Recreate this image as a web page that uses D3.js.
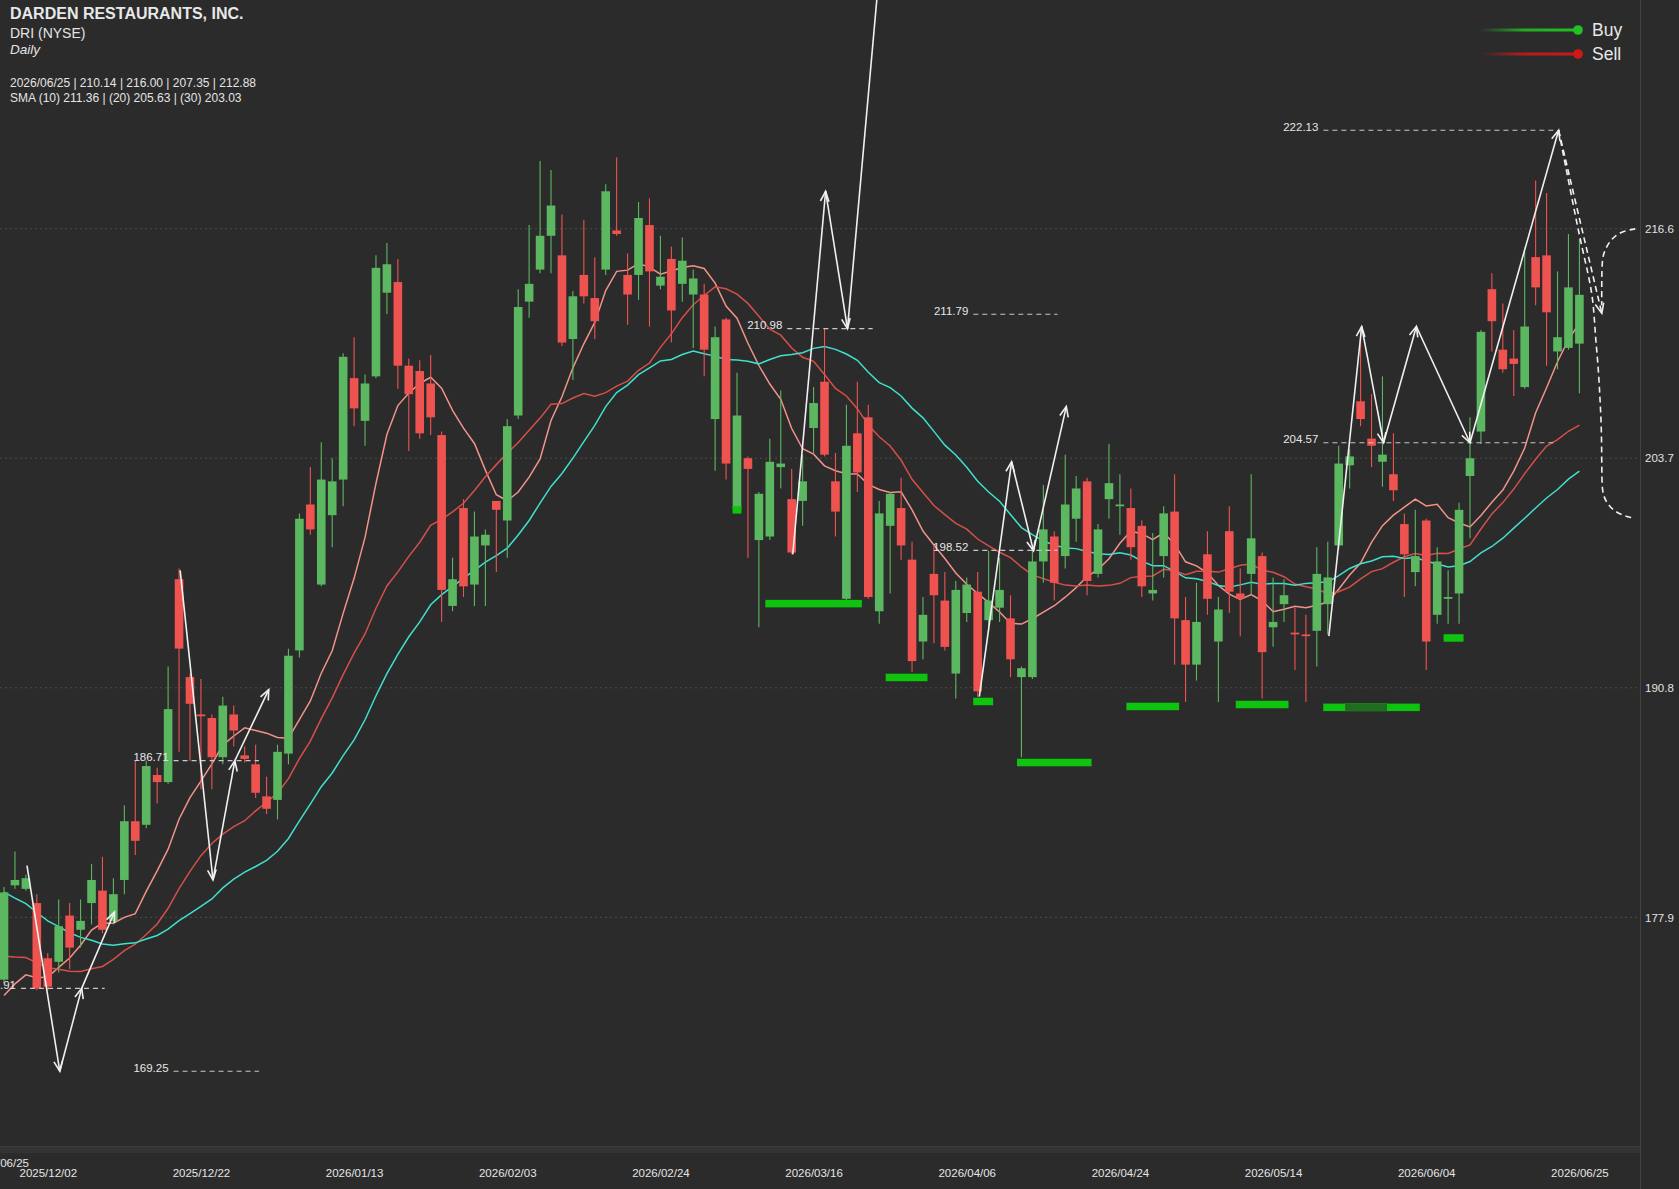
<!DOCTYPE html>
<html><head><meta charset="utf-8">
<script src="https://cdn.jsdelivr.net/npm/d3@7/dist/d3.min.js"></script>
<style>
html,body{margin:0;padding:0;background:#2b2b2b;overflow:hidden;}
svg{display:block;font-family:"Liberation Sans",Arial,Helvetica,sans-serif;}
</style></head><body>
<svg id="chart" width="1679" height="1189"></svg>
<script>
// ---------------- DATA ----------------
const dates = [
"2025/11/25","2025/11/26","2025/11/28",
"2025/12/01","2025/12/02","2025/12/03","2025/12/04","2025/12/05","2025/12/08","2025/12/09","2025/12/10","2025/12/11","2025/12/12",
"2025/12/15","2025/12/16","2025/12/17","2025/12/18","2025/12/19","2025/12/22","2025/12/23","2025/12/24","2025/12/26","2025/12/29","2025/12/30","2025/12/31",
"2026/01/02","2026/01/05","2026/01/06","2026/01/07","2026/01/08","2026/01/09","2026/01/12","2026/01/13","2026/01/14","2026/01/15","2026/01/16",
"2026/01/20","2026/01/21","2026/01/22","2026/01/23","2026/01/26","2026/01/27","2026/01/28","2026/01/29","2026/01/30",
"2026/02/02","2026/02/03","2026/02/04","2026/02/05","2026/02/06","2026/02/09","2026/02/10","2026/02/11","2026/02/12","2026/02/13",
"2026/02/17","2026/02/18","2026/02/19","2026/02/20","2026/02/23","2026/02/24","2026/02/25","2026/02/26","2026/02/27",
"2026/03/02","2026/03/03","2026/03/04","2026/03/05","2026/03/06","2026/03/09","2026/03/10","2026/03/11","2026/03/12","2026/03/13",
"2026/03/16","2026/03/17","2026/03/18","2026/03/19","2026/03/20","2026/03/23","2026/03/24","2026/03/25","2026/03/26","2026/03/27","2026/03/30","2026/03/31",
"2026/04/01","2026/04/02","2026/04/06","2026/04/07","2026/04/08","2026/04/09","2026/04/10","2026/04/13","2026/04/14","2026/04/15","2026/04/16","2026/04/17",
"2026/04/20","2026/04/21","2026/04/22","2026/04/23","2026/04/24","2026/04/27","2026/04/28","2026/04/29","2026/04/30",
"2026/05/01","2026/05/04","2026/05/05","2026/05/06","2026/05/07","2026/05/08","2026/05/11","2026/05/12","2026/05/13","2026/05/14","2026/05/15",
"2026/05/18","2026/05/19","2026/05/20","2026/05/21","2026/05/22","2026/05/26","2026/05/27","2026/05/28","2026/05/29",
"2026/06/01","2026/06/02","2026/06/03","2026/06/04","2026/06/05","2026/06/08","2026/06/09","2026/06/10","2026/06/11","2026/06/12",
"2026/06/15","2026/06/16","2026/06/17","2026/06/18","2026/06/22","2026/06/23","2026/06/24","2026/06/25"];

const opens = [174.4,179.7,179.5,178.7,175.6,175.4,178.0,177.2,178.7,179.4,
177.7,180.0,183.3,183.1,185.9,185.5,196.9,191.4,189.3,189.1,
186.9,189.3,187.0,186.5,184.7,184.5,187.1,192.9,201.1,196.6,
200.5,202.5,208.2,205.8,208.3,213.0,213.6,208.9,208.6,207.9,
205.0,195.4,200.9,196.6,198.8,201.3,200.2,206.1,212.5,214.3,
216.2,215.1,210.4,214.0,212.7,214.3,216.5,214.0,214.0,216.8,
213.4,214.9,213.5,212.9,212.9,205.9,211.5,200.9,203.7,199.1,
199.3,203.2,201.4,201.3,205.4,208.0,202.4,195.8,205.1,206.0,
195.1,199.9,200.9,198.0,193.4,197.2,195.7,191.6,195.0,196.2,
194.6,195.3,194.7,191.4,191.4,197.9,199.3,198.2,200.3,202.4,
197.2,201.4,201.0,200.9,199.9,196.1,198.2,200.7,194.6,192.1,
198.3,193.4,199.6,196.1,197.2,198.2,194.2,195.5,193.9,193.8,
194.0,195.5,198.8,203.3,206.9,204.8,203.5,202.8,200.0,197.3,
200.2,194.9,195.8,196.1,202.7,205.2,213.2,209.8,209.3,207.7,
215.0,215.1,209.7,209.9,210.14];

const highs = [179.6,181.6,180.3,179.2,175.9,178.9,178.7,178.9,180.9,181.3,
180.1,184.2,186.7,186.7,186.3,192.0,197.5,191.6,191.3,189.3,
190.3,189.8,187.5,187.6,185.8,187.6,193.0,200.6,203.2,204.6,
203.7,209.6,210.5,208.4,215.1,215.8,214.9,209.3,209.2,209.5,
205.2,198.1,201.4,200.7,199.7,201.3,205.9,213.2,216.8,220.4,
219.9,217.4,213.1,217.1,215.0,219.1,220.6,215.2,218.1,218.3,
216.2,215.6,216.1,214.3,213.5,211.1,211.6,208.5,203.8,201.8,
204.8,207.5,203.1,203.9,207.7,211.0,204.0,206.7,208.0,206.7,
201.3,201.8,202.6,199.0,195.9,198.8,197.3,196.8,197.0,197.3,
198.5,198.1,196.0,192.0,198.5,202.2,199.6,203.9,202.7,202.6,
200.0,204.5,202.8,202.0,200.2,199.5,201.0,202.8,195.9,196.7,
199.6,195.9,201.0,197.5,202.8,198.4,197.0,196.9,195.3,194.9,
198.7,199.0,204.4,204.2,210.9,207.3,208.3,205.1,200.6,200.8,
200.3,198.7,197.4,201.2,206.0,210.9,214.1,212.4,210.9,215.3,
219.3,218.6,214.2,216.3,216.00];

const lows = [174.2,179.5,179.4,173.8,173.8,174.8,175.0,176.2,177.5,177.0,
177.5,179.2,181.4,182.9,184.3,185.4,187.2,186.7,185.1,185.1,
186.5,187.5,186.6,184.6,183.7,183.4,186.5,192.5,199.4,196.5,
198.7,201.0,205.5,204.4,208.2,211.8,207.6,204.1,204.8,205.0,
194.5,195.1,195.9,195.4,195.4,197.3,198.1,205.9,211.6,214.1,
214.1,210.0,208.1,212.4,210.4,214.0,216.2,211.2,212.6,211.1,
213.2,210.2,212.5,209.9,208.3,203.0,202.5,200.8,198.1,194.2,
199.1,202.0,198.3,199.9,204.0,203.8,199.3,195.6,201.8,195.8,
194.4,196.1,198.0,191.7,192.4,193.3,192.9,190.2,194.5,190.3,
193.9,194.5,191.4,186.9,191.3,196.7,195.7,197.5,199.0,196.0,
197.0,200.3,199.4,198.0,195.9,195.7,197.0,192.1,190.0,191.2,
194.9,190.0,195.0,193.7,196.0,190.2,193.1,194.5,191.8,190.0,
192.0,193.8,198.6,202.0,205.5,203.2,202.1,201.3,195.9,196.5,
191.8,194.4,194.4,194.4,199.2,204.5,209.7,208.5,207.2,207.6,
212.3,208.9,208.7,209.8,207.35];

const closes = [179.3,180.0,180.1,173.9,174.0,177.4,176.2,177.7,180.0,177.2,
179.2,183.3,182.2,186.4,185.5,189.6,193.0,189.9,189.2,186.9,
189.8,188.4,186.8,184.9,184.0,187.2,192.6,200.3,199.7,202.5,
202.4,209.4,206.5,207.9,214.4,214.6,208.9,207.3,205.1,206.0,
196.3,196.9,196.5,199.3,199.4,200.8,205.5,212.2,213.5,216.2,
217.9,210.2,212.8,212.8,211.4,218.7,216.3,212.9,217.2,214.2,
213.9,212.0,214.8,213.8,209.8,210.5,203.4,206.1,203.1,201.7,
203.5,203.4,198.4,202.4,206.8,203.9,200.7,204.4,202.9,195.9,
200.6,201.7,198.8,192.3,194.9,196.0,193.1,196.3,196.6,190.6,
195.7,196.3,192.4,191.9,197.9,199.7,196.7,201.1,202.0,196.8,
199.7,202.3,201.1,198.7,196.5,196.3,200.6,194.7,192.1,194.5,
195.8,195.2,196.2,195.8,199.2,192.8,194.5,196.0,193.8,193.7,
197.2,197.0,203.4,203.8,205.9,204.4,203.9,201.9,198.3,198.2,
193.4,197.9,195.9,200.8,203.7,210.8,211.4,208.7,209.0,211.1,
213.3,211.9,210.5,213.3,212.88];

// closes before the visible window (estimated from where the averages start)
const priorCloses = [190.0,189.5,188.8,188.0,187.2,186.5,185.5,184.8,183.5,181.3,
181.0,180.5,180.0,179.5,179.0,178.5,178.0,177.0,174.5,171.2,
173.5,175.0,175.5,173.6,172.0,171.0,170.5,171.5,173.2];

const smaPeriods = [10, 20, 30];
const yTickValues = [177.9, 190.8, 203.7, 216.6];
const xTickIndex = [4, 18, 32, 46, 60, 74, 88, 102, 116, 130, 144];

// price level lines (value, start index, end index)
const levelValues = [173.91, 169.25, 186.71, 210.98, 211.79, 198.52, 222.13, 204.57];
const levelFrom   = [1.55, 15.5, 15.5, 71.6, 88.6, 88.6, 120.6, 120.6];
const levelTo     = [9.2, 23.3, 23.3, 79.4, 96.3, 96.3, 141.9, 141.6];

// zigzag swings [index, price]
const zigzag1 = [[2.1,180.8],[5.1,169.25],[7.1,173.91],[10.1,178.2]];
const zigzag2 = [[16.1,197.4],[19.1,180.0],[21.1,186.7],[24.2,190.7]];
const zigzag3 = [[72.1,198.3],[75.1,218.7],[77.1,210.98],[81.0,237.9]];
const zigzag4 = [[89.15,190.3],[92.1,203.5],[94.1,198.5],[97.1,206.6]];
const zigzag5 = [[121.1,193.7],[124.1,211.1],[126.1,204.57],[129.1,211.1],[134.0,204.57],[142.1,222.13]];

// projection
const projTarget = [[142.1,222.13],[146.05,211.84]];
const projUpper = [[149.1,216.59],[147.7,216.42],[146.8,215.95],[146.16,215.22],[146.04,214.46],[146.04,212.3]];
const projLower = [[142.1,222.13],[144.06,215.95],[144.67,214.46],[145.28,212.59],[145.43,210.74],[145.73,208.84],[145.89,206.96],[146.04,205.12],[146.04,202.31],[146.16,201.55],[146.8,200.92],[147.7,200.53],[148.9,200.34]];

// support markers
const markerFrom  = [67, 70, 81, 89, 93, 103, 113, 121, 123, 132];
const markerTo    = [67, 78, 84, 90, 99, 107, 117, 126, 129, 133];
const markerPrice = [200.8, 195.53, 191.38, 190.03, 186.6, 189.75, 189.86, 189.7, 189.7, 193.6];

const headerTitle = "DARDEN RESTAURANTS, INC.";
const headerTicker = "DRI (NYSE)";
const headerInterval = "Daily";
const headerOHLC = "2026/06/25 | 210.14 | 216.00 | 207.35 | 212.88";
const headerSMA = "SMA (10) 211.36 | (20) 205.63 | (30) 203.03";
const legendNames = ["Buy", "Sell"];

// ---------------- DRAW ----------------
const W = 1679, H = 1189, plotW = 1640, plotH = 1146;
const svg = d3.select("#chart");
const bg = "#2b2b2b";
svg.append("rect").attr("width", W).attr("height", H).attr("fill", bg);

const x = d3.scaleLinear().domain([0, 144]).range([4, 1579.4]);
const y = d3.scaleLinear().domain([165.05, 229.45]).range([plotH, 0]);

const defs = svg.append("defs");
defs.append("clipPath").attr("id", "plotClip").append("rect")
  .attr("x", 0).attr("y", 0).attr("width", plotW).attr("height", plotH);

// grid
const grid = svg.append("g");
grid.selectAll("line").data(yTickValues).join("line")
  .attr("x1", 0).attr("x2", plotW)
  .attr("y1", d => y(d)).attr("y2", d => y(d))
  .attr("stroke", "#4c4c4c").attr("stroke-width", 1).attr("stroke-dasharray", "2,3");

// bottom strip
svg.append("rect").attr("x", 0).attr("y", plotH + 1).attr("width", plotW).attr("height", 6).attr("fill", "#343434");
svg.append("line").attr("x1", 0).attr("x2", plotW).attr("y1", plotH + 0.5).attr("y2", plotH + 0.5)
  .attr("stroke", "#3c3c3c");

// right axis
const yAxis = d3.axisRight(y).tickValues(yTickValues).tickSize(0).tickPadding(5)
  .tickFormat(d3.format(".1f"));
const ya = svg.append("g").attr("transform", `translate(${plotW},0)`).call(yAxis);
ya.select(".domain").attr("stroke", "#444").attr("d", `M0.5,0V${H}`);
ya.selectAll("text").attr("fill", "#e2e2e2").attr("font-size", 11.5)
  .attr("font-family", '"Liberation Sans",Arial,sans-serif');

// bottom axis
const xAxis = d3.axisBottom(x).tickValues(xTickIndex).tickSize(0).tickPadding(23)
  .tickFormat(i => dates[i]);
const xa = svg.append("g").attr("transform", `translate(0,${plotH})`).call(xAxis);
xa.select(".domain").remove();
xa.selectAll("text").attr("fill", "#e6e6e6").attr("font-size", 11.5)
  .attr("font-family", '"Liberation Sans",Arial,sans-serif');
svg.append("text").attr("x", 29).attr("y", 1167).attr("text-anchor", "end")
  .attr("fill", "#e6e6e6").attr("font-size", 11.5).text("2025/06/25");

const plot = svg.append("g").attr("clip-path", "url(#plotClip)");

// moving averages
const allCloses = priorCloses.concat(closes);
function sma(n) {
  return closes.map((c, i) => {
    const j = i + priorCloses.length;
    return d3.mean(allCloses.slice(j - n + 1, j + 1));
  });
}
const smaColors = ["#f2938a", "#d64f49", "#3fe0cc"];
smaPeriods.forEach((n, k) => {
  const vals = sma(n);
  plot.append("path").datum(vals)
    .attr("fill", "none").attr("stroke", smaColors[k]).attr("stroke-width", 1.5)
    .attr("d", d3.line().x((d, i) => x(i)).y(d => y(d)));
});

// candles
const up = "#5cb860", down = "#ef5350";
const bodyW = 8.6;
const candles = plot.append("g");
closes.forEach((c, i) => {
  const o = opens[i], col = c >= o ? up : down;
  candles.append("line").attr("x1", x(i)).attr("x2", x(i))
    .attr("y1", y(highs[i])).attr("y2", y(lows[i]))
    .attr("stroke", col).attr("stroke-width", 1.1);
  const top = y(Math.max(o, c)), bot = y(Math.min(o, c));
  candles.append("rect").attr("x", x(i) - bodyW / 2).attr("y", top)
    .attr("width", bodyW).attr("height", Math.max(1.5, bot - top)).attr("fill", col);
});

// support markers
const mk = plot.append("g");
const mHalf = 4.5, mH = 7.5;
markerFrom.forEach((f, k) => {
  mk.append("rect").attr("x", x(f) - mHalf).attr("y", y(markerPrice[k]) - mH / 2)
    .attr("width", x(markerTo[k]) - x(f) + 2 * mHalf).attr("height", mH).attr("fill", "#0ec40e");
});
for (let a = 0; a < markerFrom.length; a++) {
  for (let b = a + 1; b < markerFrom.length; b++) {
    const lo = Math.max(markerFrom[a], markerFrom[b]), hi = Math.min(markerTo[a], markerTo[b]);
    if (lo <= hi && Math.abs(markerPrice[a] - markerPrice[b]) < 0.5) {
      mk.append("rect").attr("x", x(lo) - mHalf).attr("y", y(markerPrice[a]) - mH / 2)
        .attr("width", x(hi) - x(lo) + 2 * mHalf).attr("height", mH).attr("fill", "#1f6e1f");
    }
  }
}

// level lines
const lv = plot.append("g");
levelValues.forEach((v, k) => {
  lv.append("line").attr("x1", x(levelFrom[k])).attr("x2", x(levelTo[k]))
    .attr("y1", y(v)).attr("y2", y(v))
    .attr("stroke", "#c8c8c8").attr("stroke-width", 1.2).attr("stroke-dasharray", "5,4");
  lv.append("text").attr("x", x(levelFrom[k]) - 5).attr("y", y(v) + 0.5)
    .attr("text-anchor", "end").attr("fill", "#e6e6e6").attr("font-size", 11.5)
    .text(v.toFixed(2));
});

// zigzags
const zz = plot.append("g").attr("fill", "none").attr("stroke", "#f0f0f0").attr("stroke-width", 1.6);
function arrowHead(g, x1, y1, x2, y2) {
  const a = Math.atan2(y2 - y1, x2 - x1), L = 11, sp = 0.4;
  g.append("path").attr("d",
    `M${x2 - L * Math.cos(a - sp)},${y2 - L * Math.sin(a - sp)}L${x2},${y2}L${x2 - L * Math.cos(a + sp)},${y2 - L * Math.sin(a + sp)}`);
}
[zigzag1, zigzag2, zigzag3, zigzag4, zigzag5].forEach(z => {
  for (let k = 1; k < z.length; k++) {
    const x1 = x(z[k - 1][0]), y1 = y(z[k - 1][1]), x2 = x(z[k][0]), y2 = y(z[k][1]);
    zz.append("line").attr("x1", x1).attr("y1", y1).attr("x2", x2).attr("y2", y2);
    arrowHead(zz, x1, y1, x2, y2);
  }
});

// projection (dashed)
const pj = svg.append("g").attr("fill", "none").attr("stroke", "#f0f0f0").attr("stroke-width", 1.6);
const lineXY = d3.line().x(d => x(d[0])).y(d => y(d[1]));
pj.append("path").datum(projTarget).attr("d", lineXY).attr("stroke-dasharray", "6,4");
arrowHead(pj, x(projTarget[0][0]), y(projTarget[0][1]), x(projTarget[1][0]), y(projTarget[1][1]));
const curveXY = d3.line().x(d => x(d[0])).y(d => y(d[1])).curve(d3.curveBasis);
pj.append("path").datum(projUpper).attr("d", curveXY).attr("stroke-dasharray", "6,4");
pj.append("path").datum(projLower).attr("d", curveXY).attr("stroke-dasharray", "6,4");

// header
const hd = svg.append("g");
hd.append("text").attr("x", 10).attr("y", 18.5).attr("font-weight", "bold").attr("font-size", 16)
  .attr("fill", "#e8e8e8").text(headerTitle);
hd.append("text").attr("x", 10).attr("y", 37.5).attr("font-size", 14).attr("fill", "#e4e4e4").text(headerTicker);
hd.append("text").attr("x", 10).attr("y", 53.5).attr("font-size", 13.5).attr("font-style", "italic")
  .attr("fill", "#e4e4e4").text(headerInterval);
hd.append("text").attr("x", 10).attr("y", 87).attr("font-size", 12).attr("fill", "#e4e4e4").text(headerOHLC);
hd.append("text").attr("x", 10).attr("y", 102).attr("font-size", 12).attr("fill", "#e4e4e4").text(headerSMA);

// legend
const legendColors = ["#22c022", "#d01818"];
legendNames.forEach((name, k) => {
  const gid = "lg" + k;
  const gr = defs.append("linearGradient").attr("id", gid).attr("x1", "0%").attr("x2", "100%");
  gr.append("stop").attr("offset", "0%").attr("stop-color", legendColors[k]).attr("stop-opacity", 0);
  gr.append("stop").attr("offset", "45%").attr("stop-color", legendColors[k]).attr("stop-opacity", 0.85);
  gr.append("stop").attr("offset", "100%").attr("stop-color", legendColors[k]).attr("stop-opacity", 1);
  const ly = 30 + k * 24;
  svg.append("rect").attr("x", 1480).attr("y", ly - 1.5).attr("width", 98).attr("height", 3)
    .attr("fill", `url(#${gid})`);
  svg.append("circle").attr("cx", 1578).attr("cy", ly).attr("r", 4.8).attr("fill", legendColors[k]);
  svg.append("text").attr("x", 1592).attr("y", ly + 6).attr("font-size", 17.5).attr("fill", "#e8e8e8").text(name);
});
</script>
</body></html>
